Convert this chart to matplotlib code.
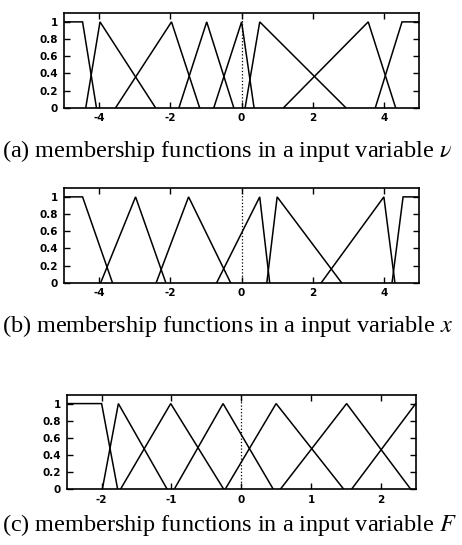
import matplotlib
matplotlib.use("Agg")
import matplotlib.pyplot as plt

# membership functions: breakpoints (x) and grades (y) for each set
v_sets_x = [
    [-5.0, -4.47, -4.08],
    [-4.38, -3.98, -2.42],
    [-3.54, -1.97, -1.18],
    [-1.76, -0.98, -0.22],
    [-0.78, 0.0, 0.35],
    [0.10, 0.51, 2.93],
    [1.18, 3.56, 4.33],
    [3.76, 4.51, 5.0],
]
v_sets_y = [[1, 1, 0]] + [[0, 1, 0]] * 6 + [[0, 1, 1]]

x_sets_x = [
    [-5.0, -4.47, -3.63],
    [-3.96, -2.98, -2.13],
    [-2.40, -1.49, -0.31],
    [-0.70, 0.51, 0.79],
    [0.71, 1.00, 2.81],
    [2.24, 4.00, 4.31],
    [4.23, 4.54, 5.0],
]
x_sets_y = [[1, 1, 0]] + [[0, 1, 0]] * 5 + [[0, 1, 1]]

F_sets_x = [
    [-2.5, -2.00, -1.77],
    [-1.99, -1.76, -1.06],
    [-1.73, -1.01, -0.25],
    [-0.96, -0.26, 0.46],
    [-0.23, 0.50, 1.47],
    [0.56, 1.51, 2.43],
    [1.58, 2.50, 3.42],
]
F_sets_y = [[1, 1, 0]] + [[0, 1, 0]] * 6

v_ticks = [-4, -2, 0, 2, 4]
x_ticks = [-4, -2, 0, 2, 4]
F_ticks = [-2, -1, 0, 1, 2]
grade_ticks = [0, 0.2, 0.4, 0.6, 0.8, 1]
grade_labels = ["0", "0.2", "0.4", "0.6", "0.8", "1"]

captions = [
    "(a) membership functions in a input variable $\\nu$",
    "(b) membership functions in a input variable $x$",
    "(c) membership functions in a input variable $F$",
]

plt.rcParams["mathtext.fontset"] = "stix"

fig = plt.figure(figsize=(4.62, 5.45), dpi=100)

panels = [
    ([0.1379, 0.8024, 0.770, 0.1732], v_sets_x, v_sets_y, v_ticks, (-5, 5)),
    ([0.1379, 0.4813, 0.770, 0.1732], x_sets_x, x_sets_y, x_ticks, (-5, 5)),
    ([0.1444, 0.1022, 0.7554, 0.1730], F_sets_x, F_sets_y, F_ticks, (-2.5, 2.5)),
]
caption_y = [0.7230, 0.4020, 0.0367]

for (rect, sx, sy, ticks, xlim), cap, cy in zip(panels, captions, caption_y):
    ax = fig.add_axes(rect)
    for xs, ys in zip(sx, sy):
        ax.plot(xs, ys, color="black", lw=1.1, solid_joinstyle="miter")
    ax.axvline(0, color="black", lw=0.9, ls=":")
    ax.set_xlim(*xlim)
    ax.set_ylim(0, 1.1)
    ax.set_xticks(ticks)
    ax.set_xticklabels([str(t) for t in ticks])
    ax.set_yticks(grade_ticks)
    ax.set_yticklabels(grade_labels)
    ax.tick_params(direction="in", top=True, right=True, length=4, width=1,
                   labelsize=7.5, pad=4)
    for lab in ax.get_xticklabels() + ax.get_yticklabels():
        lab.set_fontweight("bold")
    for sp in ax.spines.values():
        sp.set_linewidth(1.2)
    fig.text(0.004, cy, cap, family="Liberation Serif", fontsize=17.5,
             va="center", ha="left")

fig.savefig("out.png", dpi=100)
